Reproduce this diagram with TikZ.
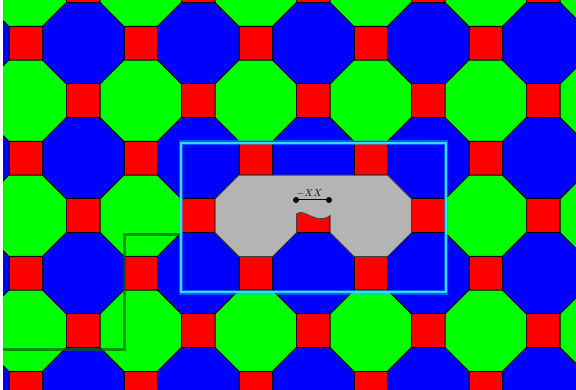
\documentclass[tikz,border=0pt]{standalone}
\definecolor{tgreen}{RGB}{0,255,0}
\definecolor{tblue}{RGB}{0,0,255}
\definecolor{tred}{RGB}{255,0,0}
\definecolor{tgrey}{RGB}{180,180,180}
\definecolor{tcyan}{RGB}{0,200,255}
\definecolor{tcyanlight}{RGB}{60,215,255}
\definecolor{tdkgreen}{RGB}{0,100,0}
\begin{document}
\begin{tikzpicture}[x=1pt,y=-1pt,
  tile/.style={draw=black,line width=0.9pt,line join=miter},
  region/.style={fill=tgrey,draw=black!75,line width=0.8pt,line join=miter},
  frameglow/.style={draw=tcyan,opacity=0.45,line width=4.5pt},
  frameline/.style={draw=tcyanlight,line width=1.8pt},
  pathline/.style={draw=tdkgreen,opacity=0.7,line width=3pt},
  dotstyle/.style={fill=black}]
\useasboundingbox (0,0) rectangle (576,390);
\fill[white] (0,0) rectangle (576,390);
\begin{scope}
\clip (3,0) rectangle (576,390);
\foreach \i in {-1,...,11}{
  \foreach \j in {-1,...,7}{
    \pgfmathtruncatemacro\pp{mod(\i+\j+20,2)}
    \pgfmathtruncatemacro\rowev{mod(\j+20,2)}
    \pgfmathsetmacro\cx{25.8+57.5*\i}
    \pgfmathsetmacro\cy{43.3+57.5*\j}
    \ifnum\pp=0
      \filldraw[tile,fill=tred] (\cx-16.85,\cy-16.85) rectangle (\cx+16.85,\cy+16.85);
    \else
      \ifnum\rowev=0 \def\oc{tblue}\else\def\oc{tgreen}\fi
      \begin{scope}[shift={(\cx,\cy)}]
        \filldraw[tile,fill=\oc] (40.65,16.85) -- (16.85,40.65) -- (-16.85,40.65) -- (-40.65,16.85)
          -- (-40.65,-16.85) -- (-16.85,-40.65) -- (16.85,-40.65) -- (40.65,-16.85) -- cycle;
      \end{scope}
    \fi
  }
}
\end{scope}
% grey region
\filldraw[region] (238.95,175.15) -- (387.65,175.15) -- (411.45,198.95) -- (411.45,232.65)
  -- (387.65,256.45) -- (353.95,256.45) -- (330.15,232.65) -- (330.15,215.5)
  .. controls (316,226) and (304,207) .. (296.45,214)
  -- (296.45,232.65) -- (272.65,256.45) -- (238.95,256.45) -- (215.15,232.65)
  -- (215.15,198.95) -- cycle;
% label with dots
\coordinate (dl) at (296,200);
\coordinate (dr) at (329,200);
\draw[line width=1pt] (dl) -- (dr);
\fill[dotstyle] (dl) circle (3);
\fill[dotstyle] (dr) circle (3);
\node[anchor=base,inner sep=0pt] (lbl) at (309.5,196.7) {$-XX$};
% dark green path
\coordinate (g1) at (181,234.5);
\coordinate (g2) at (124.3,234.5);
\coordinate (g3) at (124.3,349.5);
\coordinate (g4) at (3,349.5);
\draw[pathline] (g1) -- (g2) -- (g3) -- (g4);
% cyan frame
\coordinate (fa) at (181,142.7);
\coordinate (fb) at (446,292.3);
\draw[frameglow] (fa) rectangle (fb);
\draw[frameline] (fa) rectangle (fb);
\end{tikzpicture}
\end{document}
